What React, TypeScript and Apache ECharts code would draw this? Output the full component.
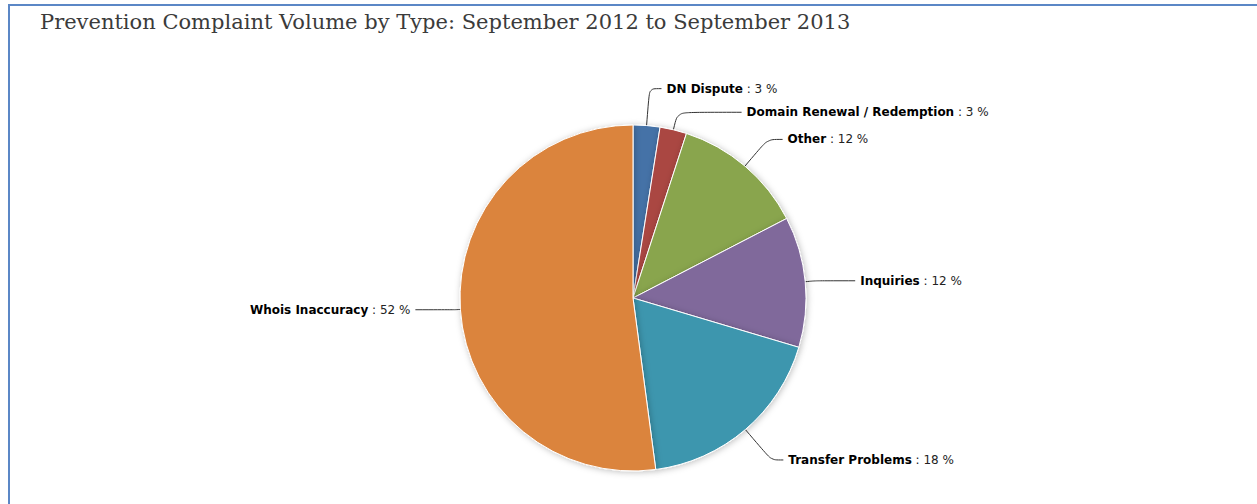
import React, { useEffect, useRef } from "react";
import * as echarts from "echarts";

const titleText = "Prevention Complaint Volume by Type: September 2012 to September 2013";
const categories = [
  "DN Dispute",
  "Domain Renewal / Redemption",
  "Other",
  "Inquiries",
  "Transfer Problems",
  "Whois Inaccuracy",
];
const shares = [2.5, 2.5, 12.4, 12.2, 18.3, 52.1];
const colors = ["#4572A7", "#AA4643", "#89A54E", "#80699B", "#3D96AE", "#DB843D"];
// connector lengths [radial, horizontal] per slice (styling)
const connectorLengths: [number, number][] = [
  [37, 12],
  [18, 64],
  [35, 15],
  [10, 40],
  [40, 12],
  [5, 40],
];

export default function App() {
  const ref = useRef<HTMLDivElement>(null);
  useEffect(() => {
    if (!ref.current) return;
    const chart = echarts.init(ref.current, null, { renderer: "svg" });
    chart.setOption({
      animation: false,
      backgroundColor: "#ffffff",
      title: {
        text: titleText,
        left: 35,
        top: 6,
        textStyle: {
          fontFamily: "DejaVu Serif",
          fontWeight: "normal",
          fontSize: 21,
          color: "#3b3b3b",
        },
      },
      graphic: [
        { type: "line", shape: { x1: 8, y1: 5, x2: 1257, y2: 5 }, style: { stroke: "#5B87C6", lineWidth: 2 } },
        { type: "line", shape: { x1: 9, y1: 4, x2: 9, y2: 504 }, style: { stroke: "#5B87C6", lineWidth: 2 } },
      ],
      series: [
        {
          type: "pie",
          center: [633, 298],
          radius: 173,
          startAngle: 90,
          clockwise: true,
          avoidLabelOverlap: false,
          itemStyle: {
            borderColor: "#ffffff",
            borderWidth: 1,
            shadowBlur: 6,
            shadowColor: "rgba(0,0,0,0.25)",
            shadowOffsetX: 1,
            shadowOffsetY: 1,
          },
          label: {
            show: true,
            position: "outside",
            distanceToLabelLine: 5,
            formatter: (p: any) => `{b|${p.name}}{v| : ${Math.round(p.percent)} %}`,
            rich: {
              b: { fontFamily: "DejaVu Sans", fontWeight: "bold", fontSize: 12, color: "#000000" },
              v: { fontFamily: "DejaVu Sans", fontSize: 12, color: "#222222" },
            },
          },
          labelLine: {
            show: true,
            smooth: 0.3,
            lineStyle: { color: "#333333", width: 1 },
          },
          emphasis: { disabled: true },
          data: categories.map((name, i) => ({
            name,
            value: shares[i],
            itemStyle: { color: colors[i] },
            labelLine: { length: connectorLengths[i][0], length2: connectorLengths[i][1] },
          })),
        },
      ],
    });
    return () => chart.dispose();
  }, []);
  return (
    <div
      ref={ref}
      style={{ position: "absolute", left: 0, top: 0, width: 1257, height: 504 }}
    />
  );
}
